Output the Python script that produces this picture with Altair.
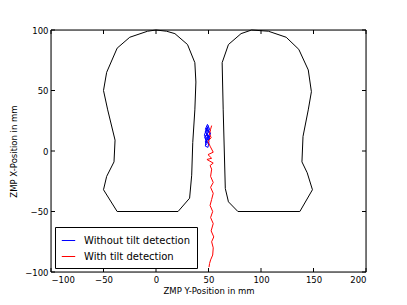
import altair as alt
import pandas as pd

# Foot outlines (ZMP Y, ZMP X)
left_foot_y = [-8, 0, 10, 18, 30, 37, 38, 37, 35, 34, 32, 21, -37, -50, -47, -40, -39, -46, -50, -47, -37, -25, -8]
left_foot_x = [99, 100, 99, 97, 88, 73, 57, 34, 7, -20, -39, -50, -50, -32, -21, -9, 9, 34, 50, 65, 85, 94, 99]
right_foot_y = [91, 107, 124, 136, 145, 148, 145, 140, 139, 144, 149, 137, 78, 69, 66, 64, 63, 69, 81, 91]
right_foot_x = [100, 99, 94, 84, 67, 49, 34, 12, -9, -18, -32, -50, -50, -42, -31, 34, 73, 88, 97, 100]

# Trajectories
blue_y = [48, 47, 50, 46.5, 49, 51, 47, 48.5, 46, 50, 52, 47, 49, 51.5, 46.5, 48, 50, 47.5, 49, 51, 48, 47, 49.5, 50.5, 48.5, 49, 50]
blue_x = [5, 8, 6, 11, 14, 10, 16, 19, 13, 9, 15, 18, 22, 17, 12, 7, 12, 15, 20, 14, 10, 4, 3, 8, 13, 18, 21]
red_y = [53, 52, 51, 52.5, 49.5, 51.5, 54.5, 49.5, 53, 48.5, 54.5, 51.5, 53, 52, 54.5, 52, 54.5, 53, 51.5, 54, 52, 54.5, 52.5, 55, 53, 54.5, 54, 52, 51, 50.5]
red_x = [21, 18, 14, 11, 8, 4, -1, -3, -6, -7, -10, -12, -15, -21, -26, -30, -35, -40, -45, -50, -55, -60, -66, -71, -75, -80, -86, -90, -93, -96]

series_names = ["Without tilt detection", "With tilt detection"]
series_colors = ["#0000ff", "#ff0000"]

x_ticks = [-100, -50, 0, 50, 100, 150, 200]
y_ticks = [-100, -50, 0, 50, 100]

W, H = 315, 242

feet_rows = []
for i, (a, b) in enumerate(zip(left_foot_y, left_foot_x)):
    feet_rows.append({"foot": "left", "i": i, "y": a, "x": b})
for i, (a, b) in enumerate(zip(right_foot_y, right_foot_x)):
    feet_rows.append({"foot": "right", "i": i, "y": a, "x": b})
feet = pd.DataFrame(feet_rows)

traj_rows = []
for i, (a, b) in enumerate(zip(blue_y, blue_x)):
    traj_rows.append({"series": series_names[0], "i": i, "y": a, "x": b})
for i, (a, b) in enumerate(zip(red_y, red_x)):
    traj_rows.append({"series": series_names[1], "i": i, "y": a, "x": b})
traj = pd.DataFrame(traj_rows)

xs = alt.Scale(domain=[-100, 200], nice=False, zero=False)
ys = alt.Scale(domain=[-100, 100], nice=False, zero=False)

xaxis = alt.Axis(title="ZMP Y-Position in mm", values=x_ticks, ticks=False, domain=False,
                 grid=False, labelFontSize=8.5, titleFontSize=8.5, labelPadding=3,
                 titlePadding=3, labelColor="black", titleColor="black",
                 titleFontWeight="normal", labelFont="DejaVu Sans", titleFont="DejaVu Sans")
yaxis = alt.Axis(title="ZMP X-Position in mm", values=y_ticks, ticks=False, domain=False,
                 grid=False, labelFontSize=8.5, titleFontSize=8.5, labelPadding=3,
                 titlePadding=6, labelColor="black", titleColor="black",
                 titleFontWeight="normal", labelFont="DejaVu Sans", titleFont="DejaVu Sans")

feet_layer = alt.Chart(feet).mark_line(color="black", strokeWidth=1).encode(
    x=alt.X("y:Q", scale=xs, axis=xaxis),
    y=alt.Y("x:Q", scale=ys, axis=yaxis),
    detail="foot:N",
    order="i:Q",
)

traj_layer = alt.Chart(traj).mark_line(strokeWidth=1).encode(
    x=alt.X("y:Q", scale=xs),
    y=alt.Y("x:Q", scale=ys),
    color=alt.Color("series:N", scale=alt.Scale(domain=series_names, range=series_colors),
                    sort=series_names,
                    legend=alt.Legend(title=None, orient="bottom-left", symbolType="stroke",
                                      symbolStrokeWidth=1, symbolSize=180, labelFontSize=10,
                                      labelFont="DejaVu Sans", labelColor="black",
                                      strokeColor="black", fillColor="white", padding=6,
                                      offset=4, rowPadding=3, labelOffset=8)),
    order="i:Q",
)

xt = pd.DataFrame({"v": x_ticks})
yt = pd.DataFrame({"v": y_ticks})
tick_bottom = alt.Chart(xt).mark_rule(color="black").encode(
    x=alt.X("v:Q", scale=xs), y=alt.value(H), y2=alt.value(H - 4))
tick_top = alt.Chart(xt).mark_rule(color="black").encode(
    x=alt.X("v:Q", scale=xs), y=alt.value(0), y2=alt.value(4))
tick_left = alt.Chart(yt).mark_rule(color="black").encode(
    y=alt.Y("v:Q", scale=ys), x=alt.value(0), x2=alt.value(4))
tick_right = alt.Chart(yt).mark_rule(color="black").encode(
    y=alt.Y("v:Q", scale=ys), x=alt.value(W), x2=alt.value(W - 4))

frame_h = alt.Chart(pd.DataFrame({"v": [y_ticks[0], y_ticks[-1]]})).mark_rule(color="black").encode(
    y=alt.Y("v:Q", scale=ys), x=alt.value(0), x2=alt.value(W))
frame_v = alt.Chart(pd.DataFrame({"v": [x_ticks[0], x_ticks[-1]]})).mark_rule(color="black").encode(
    x=alt.X("v:Q", scale=xs), y=alt.value(0), y2=alt.value(H))

chart = alt.layer(feet_layer, traj_layer, tick_bottom, tick_top, tick_left, tick_right,
                  frame_h, frame_v).properties(
    width=W, height=H,
    autosize=alt.AutoSizeParams(type="none"),
    padding={"left": 43, "top": 22, "right": 33, "bottom": 25},
).configure(background="white")

chart.save("out.html", embed_options={"renderer": "svg", "actions": False})
